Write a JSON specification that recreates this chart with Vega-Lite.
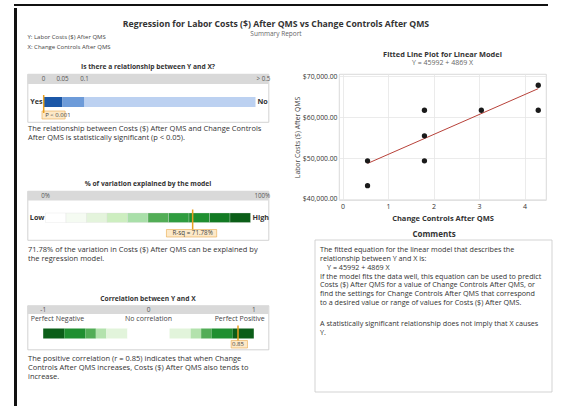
{
  "$schema": "https://vega.github.io/schema/vega-lite/v6.json",
  "padding": {"left": 12, "top": 2, "right": 0, "bottom": 0},
  "background": "white",
  "config": {
    "font": "Open Sans",
    "view": {"stroke": null},
    "text": {"font": "Open Sans", "color": "#333333"},
    "title": {"font": "Open Sans", "color": "#333333", "subtitleFont": "Open Sans"},
    "axis": {"labelFont": "Open Sans", "titleFont": "Open Sans"}
  },
  "datasets": {
    "g1seg": [
      {"lo": 0, "hi": 0.05, "zone": "p<0.05"},
      {"lo": 0.05, "hi": 0.1, "zone": "0.05-0.10"},
      {"lo": 0.1, "hi": 0.5, "zone": "p>0.10"}
    ],
    "g1lab": [
      {"v": 0, "lab": "0"},
      {"v": 0.05, "lab": "0.05"},
      {"v": 0.1, "lab": "0.1"},
      {"v": 0.5, "lab": "> 0.5"}
    ],
    "g1res": [{"p": 0.0005, "tag": "P < 0.001"}],
    "g2seg": [
      {"lo": 0.0, "hi": 0.1, "shade": 1},
      {"lo": 0.1, "hi": 0.2, "shade": 2},
      {"lo": 0.2, "hi": 0.3, "shade": 3},
      {"lo": 0.3, "hi": 0.4, "shade": 4},
      {"lo": 0.4, "hi": 0.5, "shade": 5},
      {"lo": 0.5, "hi": 0.6, "shade": 6},
      {"lo": 0.6, "hi": 0.7, "shade": 7},
      {"lo": 0.7, "hi": 0.8, "shade": 8},
      {"lo": 0.8, "hi": 0.9, "shade": 9},
      {"lo": 0.9, "hi": 1.0, "shade": 10}
    ],
    "g2lab": [{"v": 0, "lab": "0%"}, {"v": 1, "lab": "100%"}],
    "g2res": [{"rsq": 0.7178, "tag": "R-sq = 71.78%"}],
    "g3seg": [
      {"lo": -1.0, "hi": -0.8, "level": 5},
      {"lo": -0.8, "hi": -0.6, "level": 4},
      {"lo": -0.6, "hi": -0.5, "level": 3},
      {"lo": -0.5, "hi": -0.4, "level": 2},
      {"lo": -0.4, "hi": -0.2, "level": 1},
      {"lo": -0.2, "hi": 0.0, "level": 0},
      {"lo": 0.0, "hi": 0.2, "level": 0},
      {"lo": 0.2, "hi": 0.4, "level": 1},
      {"lo": 0.4, "hi": 0.5, "level": 2},
      {"lo": 0.5, "hi": 0.6, "level": 3},
      {"lo": 0.6, "hi": 0.8, "level": 4},
      {"lo": 0.8, "hi": 1.0, "level": 5}
    ],
    "g3lab": [{"v": -1, "lab": "-1"}, {"v": 0, "lab": "0"}, {"v": 1, "lab": "1"}],
    "g3res": [{"r": 0.85, "tag": "0.85"}],
    "obs": [
      {"cc": 0.55, "cost": 49300},
      {"cc": 0.55, "cost": 43250},
      {"cc": 1.8, "cost": 61650},
      {"cc": 1.8, "cost": 55400},
      {"cc": 1.8, "cost": 49300},
      {"cc": 3.05, "cost": 61650},
      {"cc": 4.3, "cost": 67750},
      {"cc": 4.3, "cost": 61650}
    ],
    "fit": [
      {"cc": 0.55, "fitted": 48670},
      {"cc": 4.3, "fitted": 66929}
    ],
    "comments": [
      {"part": "intro", "note": "The fitted equation for the linear model that describes the\nrelationship between Y and X is:"},
      {"part": "equation", "note": "Y = 45992 + 4869 X"},
      {"part": "use", "note": "If the model fits the data well, this equation can be used to predict\nCosts ($) After QMS for a value of Change Controls After QMS, or\nfind the settings for Change Controls After QMS that correspond\nto a desired value or range of values for Costs ($) After QMS."},
      {"part": "caution", "note": "A statistically significant relationship does not imply that X causes\nY."}
    ]
  },
  "spacing": 0,
  "resolve": {"scale": {"color": "independent"}},
  "vconcat": [
    {
      "width": 534, "height": 2,
      "view": {"fill": "#111111", "stroke": null},
      "data": {"values": [{"edge": "top"}]},
      "mark": {"type": "point", "opacity": 0},
      "encoding": {}
    },
    {
      "spacing": 7.5,
      "resolve": {"scale": {"color": "independent"}},
      "hconcat": [
        {
          "width": 3, "height": 402,
          "view": {"fill": "#111111", "stroke": null},
          "data": {"values": [{"edge": "left"}]},
          "mark": {"type": "point", "opacity": 0},
          "encoding": {}
        },
        {
          "spacing": 0,
          "resolve": {"scale": {"color": "independent"}},
          "vconcat": [
            {
              "width": 523, "height": 35.5,
              "title": {
                "text": "Regression for Labor Costs ($) After QMS vs Change Controls After QMS",
                "subtitle": "Summary Report",
                "fontSize": 8.7, "fontWeight": "bold", "color": "#333333",
                "subtitleFontSize": 6.5, "subtitleColor": "#666666", "subtitlePadding": 2,
                "anchor": "middle", "offset": -29, "dx": -13
              },
              "data": {"values": [{"t": "Y: Labor Costs ($) After QMS\nX: Change Controls After QMS"}]},
              "mark": {"type": "text", "align": "left", "baseline": "top", "lineBreak": "\n", "fontSize": 6, "lineHeight": 9.5, "color": "#444444"},
              "encoding": {
                "x": {"datum": 0, "type": "quantitative", "scale": {"domain": [0, 1]}, "axis": null},
                "y": {"datum": 26, "type": "quantitative", "scale": {"domain": [0, 35.5], "reverse": true, "nice": false, "zero": false}, "axis": null},
                "text": {"field": "t"}
              }
            },
            {
              "spacing": 21.5,
              "resolve": {"scale": {"color": "independent"}},
              "hconcat": [
                {
                  "spacing": 38,
                  "resolve": {"scale": {"color": "independent"}},
                  "vconcat": [
                    {
                      "width": 241, "height": 48,
                      "view": {"stroke": "#c8c8c8", "strokeWidth": 0.8},
                      "title": {"text": "Is there a relationship between Y and X?", "fontSize": 6.7, "fontWeight": "bold", "offset": 3},
                      "layer": [
                        {
                          "data": {"name": "g1seg"},
                          "mark": {"type": "bar"},
                          "encoding": {
                            "x": {
                              "field": "lo", "type": "quantitative",
                              "scale": {"domain": [0, 0.05, 0.1, 0.5], "range": [16, 35, 57, 228], "nice": false, "zero": false},
                              "axis": {
                                "orient": "bottom", "domain": false, "ticks": false, "labels": false, "grid": false,
                                "title": ["The relationship between Costs ($) After QMS and Change Controls", "After QMS is statistically significant (p < 0.05)."],
                                "titleX": 0, "titleAlign": "left", "titleAnchor": "start", "titleBaseline": "top",
                                "titleFontSize": 7.5, "titleFontWeight": "normal", "titleColor": "#333333", "titlePadding": 2.5, "titleLineHeight": 9.3
                              }
                            },
                            "x2": {"field": "hi"},
                            "y": {"datum": 23, "type": "quantitative", "scale": {"domain": [0, 48], "reverse": true, "nice": false, "zero": false}, "axis": null},
                            "y2": {"datum": 33},
                            "color": {"field": "zone", "type": "nominal", "scale": {"domain": ["p<0.05", "0.05-0.10", "p>0.10"], "range": ["#1b57a7", "#6d9bd9", "#bcd1f1"]}, "legend": null}
                          }
                        },
                        {
                          "data": {"values": [{"band": "scale"}]},
                          "mark": {"type": "rect", "color": "#d9d9d9", "clip": true},
                          "encoding": {
                            "x": {"datum": -1},
                            "x2": {"datum": 2},
                            "y": {"datum": 0, "axis": null},
                            "y2": {"datum": 10}
                          }
                        },
                        {
                          "data": {"name": "g1lab"},
                          "transform": [{"filter": "datum.v < 0.5"}],
                          "mark": {"type": "text", "fontSize": 6.2, "color": "#555555", "baseline": "middle"},
                          "encoding": {
                            "x": {"field": "v", "type": "quantitative"},
                            "y": {"datum": 5, "axis": null},
                            "text": {"field": "lab"}
                          }
                        },
                        {
                          "data": {"name": "g1lab"},
                          "transform": [{"filter": "datum.v == 0.5"}],
                          "mark": {"type": "text", "fontSize": 6.2, "color": "#555555", "baseline": "middle", "align": "left", "dx": 1},
                          "encoding": {
                            "x": {"field": "v", "type": "quantitative"},
                            "y": {"datum": 5, "axis": null},
                            "text": {"field": "lab"}
                          }
                        },
                        {
                          "data": {"values": [{"end": "Yes"}]},
                          "mark": {"type": "text", "fontSize": 7.2, "fontWeight": "bold", "align": "right", "baseline": "middle", "dx": -1},
                          "encoding": {
                            "x": {"datum": 0},
                            "y": {"datum": 28, "axis": null},
                            "text": {"field": "end"}
                          }
                        },
                        {
                          "data": {"values": [{"end": "No"}]},
                          "mark": {"type": "text", "fontSize": 7.2, "fontWeight": "bold", "align": "left", "baseline": "middle", "dx": 2},
                          "encoding": {
                            "x": {"datum": 0.5},
                            "y": {"datum": 28, "axis": null},
                            "text": {"field": "end"}
                          }
                        },
                        {
                          "data": {"name": "g1res"},
                          "mark": {"type": "rect", "fill": "#fde9c8", "stroke": "#e9a94a", "strokeWidth": 0.6},
                          "encoding": {
                            "x": {"datum": -0.004},
                            "x2": {"datum": 0.056},
                            "y": {"datum": 37, "axis": null},
                            "y2": {"datum": 45}
                          }
                        },
                        {
                          "data": {"name": "g1res"},
                          "mark": {"type": "rule", "color": "#e8a020", "strokeWidth": 1.5},
                          "encoding": {
                            "x": {"field": "p", "type": "quantitative"},
                            "y": {"datum": 21, "axis": null},
                            "y2": {"datum": 39}
                          }
                        },
                        {
                          "data": {"name": "g1res"},
                          "mark": {"type": "text", "fontSize": 6, "align": "left", "baseline": "middle", "dx": 1.5, "color": "#444444"},
                          "encoding": {
                            "x": {"field": "p", "type": "quantitative"},
                            "y": {"datum": 41.3, "axis": null},
                            "text": {"field": "tag"}
                          }
                        }
                      ]
                    },
                    {
                      "spacing": 31.5,
                      "resolve": {"scale": {"color": "independent"}},
                      "vconcat": [
                        {
                          "width": 241, "height": 49,
                          "view": {"stroke": "#c8c8c8", "strokeWidth": 0.8},
                          "title": {"text": "% of variation explained by the model", "fontSize": 6.7, "fontWeight": "bold", "offset": 3},
                          "layer": [
                            {
                              "data": {"name": "g2seg"},
                              "mark": {"type": "bar", "stroke": "#dddddd", "strokeWidth": 0.3},
                              "encoding": {
                                "x": {
                                  "field": "lo", "type": "quantitative",
                                  "scale": {"domain": [0, 1], "range": [18, 223], "nice": false, "zero": false},
                                  "axis": {
                                    "orient": "bottom", "domain": false, "ticks": false, "labels": false, "grid": false,
                                    "title": ["71.78% of the variation in Costs ($) After QMS can be explained by", "the regression model."],
                                    "titleX": 0, "titleAlign": "left", "titleAnchor": "start", "titleBaseline": "top",
                                    "titleFontSize": 7.5, "titleFontWeight": "normal", "titleColor": "#333333", "titlePadding": 5.5, "titleLineHeight": 9.3
                                  }
                                },
                                "x2": {"field": "hi"},
                                "y": {"datum": 22, "type": "quantitative", "scale": {"domain": [0, 49], "reverse": true, "nice": false, "zero": false}, "axis": null},
                                "y2": {"datum": 31.5},
                                "color": {"field": "shade", "type": "ordinal", "scale": {"domain": [1, 2, 3, 4, 5, 6, 7, 8, 9, 10], "range": ["#ffffff", "#f5fbf2", "#e4f4dc", "#cdeec0", "#a9dfa9", "#52ad56", "#2f9c3f", "#1f8f30", "#127a23", "#0b5e18"]}, "legend": null}
                              }
                            },
                            {
                              "data": {"values": [{"band": "scale"}]},
                              "mark": {"type": "rect", "color": "#d9d9d9", "clip": true},
                              "encoding": {
                                "x": {"datum": -1},
                                "x2": {"datum": 2},
                                "y": {"datum": 0, "axis": null},
                                "y2": {"datum": 9.5}
                              }
                            },
                            {
                              "data": {"name": "g2lab"},
                              "transform": [{"filter": "datum.v < 1"}],
                              "mark": {"type": "text", "fontSize": 6.2, "color": "#555555", "baseline": "middle"},
                              "encoding": {
                                "x": {"field": "v", "type": "quantitative"},
                                "y": {"datum": 5, "axis": null},
                                "text": {"field": "lab"}
                              }
                            },
                            {
                              "data": {"name": "g2lab"},
                              "transform": [{"filter": "datum.v == 1"}],
                              "mark": {"type": "text", "fontSize": 6.2, "color": "#555555", "baseline": "middle", "align": "left", "dx": 4},
                              "encoding": {
                                "x": {"field": "v", "type": "quantitative"},
                                "y": {"datum": 5, "axis": null},
                                "text": {"field": "lab"}
                              }
                            },
                            {
                              "data": {"values": [{"end": "Low"}]},
                              "mark": {"type": "text", "fontSize": 7.2, "fontWeight": "bold", "align": "right", "baseline": "middle", "dx": -1},
                              "encoding": {
                                "x": {"datum": 0},
                                "y": {"datum": 26.5, "axis": null},
                                "text": {"field": "end"}
                              }
                            },
                            {
                              "data": {"values": [{"end": "High"}]},
                              "mark": {"type": "text", "fontSize": 7.2, "fontWeight": "bold", "align": "left", "baseline": "middle", "dx": 2},
                              "encoding": {
                                "x": {"datum": 1},
                                "y": {"datum": 26.5, "axis": null},
                                "text": {"field": "end"}
                              }
                            },
                            {
                              "data": {"name": "g2res"},
                              "mark": {"type": "rect", "fill": "#fde9c8", "stroke": "#e9a94a", "strokeWidth": 0.6},
                              "encoding": {
                                "x": {"datum": 0.59},
                                "x2": {"datum": 0.835},
                                "y": {"datum": 38.5, "axis": null},
                                "y2": {"datum": 46}
                              }
                            },
                            {
                              "data": {"name": "g2res"},
                              "mark": {"type": "rule", "color": "#e8a020", "strokeWidth": 1.5},
                              "encoding": {
                                "x": {"field": "rsq", "type": "quantitative"},
                                "y": {"datum": 18.5, "axis": null},
                                "y2": {"datum": 38.5}
                              }
                            },
                            {
                              "data": {"name": "g2res"},
                              "mark": {"type": "text", "fontSize": 6.2, "align": "center", "baseline": "middle", "color": "#444444"},
                              "encoding": {
                                "x": {"field": "rsq", "type": "quantitative"},
                                "y": {"datum": 42.3, "axis": null},
                                "text": {"field": "tag"}
                              }
                            }
                          ]
                        },
                        {
                          "width": 241, "height": 44,
                          "view": {"stroke": "#c8c8c8", "strokeWidth": 0.8},
                          "title": {"text": "Correlation between Y and X", "fontSize": 6.7, "fontWeight": "bold", "offset": 3},
                          "layer": [
                            {
                              "data": {"name": "g3seg"},
                              "mark": {"type": "bar"},
                              "encoding": {
                                "x": {
                                  "field": "lo", "type": "quantitative",
                                  "scale": {"domain": [-1, 1], "range": [15.7, 226.3], "nice": false, "zero": false},
                                  "axis": {
                                    "orient": "bottom", "domain": false, "ticks": false, "labels": false, "grid": false,
                                    "title": ["The positive correlation (r = 0.85) indicates that when Change", "Controls After QMS increases, Costs ($) After QMS also tends to", "increase."],
                                    "titleX": 0, "titleAlign": "left", "titleAnchor": "start", "titleBaseline": "top",
                                    "titleFontSize": 7.5, "titleFontWeight": "normal", "titleColor": "#333333", "titlePadding": 5, "titleLineHeight": 9
                                  }
                                },
                                "x2": {"field": "hi"},
                                "y": {"datum": 23, "type": "quantitative", "scale": {"domain": [0, 44], "reverse": true, "nice": false, "zero": false}, "axis": null},
                                "y2": {"datum": 33},
                                "color": {"field": "level", "type": "ordinal", "scale": {"domain": [0, 1, 2, 3, 4, 5], "range": ["#ffffff", "#e2f4db", "#b3e2ad", "#52ad56", "#1f8f30", "#0b5e18"]}, "legend": null}
                              }
                            },
                            {
                              "data": {"values": [{"band": "scale"}]},
                              "mark": {"type": "rect", "color": "#d9d9d9", "clip": true},
                              "encoding": {
                                "x": {"datum": -2},
                                "x2": {"datum": 2},
                                "y": {"datum": 0, "axis": null},
                                "y2": {"datum": 8.5}
                              }
                            },
                            {
                              "data": {"name": "g3lab"},
                              "mark": {"type": "text", "fontSize": 6.5, "color": "#555555", "baseline": "middle"},
                              "encoding": {
                                "x": {"field": "v", "type": "quantitative"},
                                "y": {"datum": 4.5, "axis": null},
                                "text": {"field": "lab"}
                              }
                            },
                            {
                              "data": {"values": [{"end": "Perfect Negative"}]},
                              "mark": {"type": "text", "fontSize": 7, "align": "left", "baseline": "middle", "dx": -12.5, "color": "#444444"},
                              "encoding": {
                                "x": {"datum": -1},
                                "y": {"datum": 13.5, "axis": null},
                                "text": {"field": "end"}
                              }
                            },
                            {
                              "data": {"values": [{"end": "No correlation"}]},
                              "mark": {"type": "text", "fontSize": 7, "align": "center", "baseline": "middle", "color": "#444444"},
                              "encoding": {
                                "x": {"datum": 0},
                                "y": {"datum": 13.5, "axis": null},
                                "text": {"field": "end"}
                              }
                            },
                            {
                              "data": {"values": [{"end": "Perfect Positive"}]},
                              "mark": {"type": "text", "fontSize": 7, "align": "right", "baseline": "middle", "dx": 11, "color": "#444444"},
                              "encoding": {
                                "x": {"datum": 1},
                                "y": {"datum": 13.5, "axis": null},
                                "text": {"field": "end"}
                              }
                            },
                            {
                              "data": {"name": "g3res"},
                              "mark": {"type": "rect", "fill": "#fde9c8", "stroke": "#e9a94a", "strokeWidth": 0.6},
                              "encoding": {
                                "x": {"datum": 0.785},
                                "x2": {"datum": 0.94},
                                "y": {"datum": 35, "axis": null},
                                "y2": {"datum": 42.5}
                              }
                            },
                            {
                              "data": {"name": "g3res"},
                              "mark": {"type": "rule", "color": "#e8a020", "strokeWidth": 1.5},
                              "encoding": {
                                "x": {"field": "r", "type": "quantitative"},
                                "y": {"datum": 20, "axis": null},
                                "y2": {"datum": 35}
                              }
                            },
                            {
                              "data": {"name": "g3res"},
                              "mark": {"type": "text", "fontSize": 6, "align": "center", "baseline": "middle", "color": "#444444"},
                              "encoding": {
                                "x": {"field": "r", "type": "quantitative"},
                                "y": {"datum": 38.8, "axis": null},
                                "text": {"field": "tag"}
                              }
                            }
                          ]
                        }
                      ]
                    }
                  ]
                },
                {
                  "spacing": 7,
                  "vconcat": [
                    {
                      "width": 207, "height": 126,
                      "view": {"stroke": "#cfcfcf", "strokeWidth": 0.8},
                      "title": {
                        "text": "Fitted Line Plot for Linear Model",
                        "subtitle": "Y = 45992 + 4869 X",
                        "fontSize": 7.4, "fontWeight": "bold",
                        "subtitleFontSize": 7, "subtitleColor": "#666666", "subtitlePadding": 0.5,
                        "offset": 7
                      },
                      "layer": [
                        {
                          "data": {"name": "fit"},
                          "mark": {"type": "line", "color": "#b8423a", "strokeWidth": 1},
                          "encoding": {
                            "x": {
                              "field": "cc", "type": "quantitative",
                              "scale": {"domain": [-0.077, 4.47], "nice": false, "zero": false},
                              "axis": {
                                "values": [0, 1, 2, 3, 4], "title": "Change Controls After QMS",
                                "titleFontWeight": "bold", "titleFontSize": 7.5, "titleColor": "#333333", "titlePadding": 5.5,
                                "labelFontSize": 7, "labelColor": "#333333", "labelPadding": 2,
                                "domain": false, "ticks": false, "grid": true, "gridColor": "#e6e6e6", "gridWidth": 0.8
                              }
                            },
                            "y": {
                              "field": "fitted", "type": "quantitative",
                              "scale": {"domain": [39750, 70500], "nice": false, "zero": false},
                              "axis": {
                                "values": [40000, 50000, 60000, 70000], "format": "$,.2f", "title": "Labor Costs ($) After QMS",
                                "titleFontWeight": "normal", "titleFontSize": 6.8, "titleColor": "#444444", "titlePadding": 2,
                                "labelFontSize": 6.8, "labelColor": "#333333", "labelPadding": 2,
                                "domain": false, "ticks": false, "grid": true, "gridColor": "#e6e6e6", "gridWidth": 0.8
                              }
                            }
                          }
                        },
                        {
                          "data": {"name": "obs"},
                          "mark": {"type": "circle", "size": 28, "color": "#1a1a1a", "opacity": 1},
                          "encoding": {
                            "x": {"field": "cc", "type": "quantitative"},
                            "y": {"field": "cost", "type": "quantitative"}
                          }
                        }
                      ]
                    },
                    {
                      "width": 210, "height": 152,
                      "title": {"text": "Comments", "fontSize": 8, "fontWeight": "bold", "offset": 1, "dx": -10},
                      "data": {"name": "comments"},
                      "layer": [
                        {
                          "transform": [{"filter": "datum.part == 'intro'"}],
                          "mark": {"type": "rect", "fill": "#ffffff", "stroke": "#c8c8c8", "strokeWidth": 0.8},
                          "encoding": {
                            "x": {"datum": 0, "type": "quantitative", "scale": {"domain": [0, 1], "range": [-24, 213]}, "axis": null},
                            "x2": {"datum": 1},
                            "y": {"datum": 0, "type": "quantitative", "scale": {"domain": [0, 152], "reverse": true, "nice": false, "zero": false}, "axis": null},
                            "y2": {"datum": 152}
                          }
                        },
                        {
                          "transform": [{"filter": "datum.part == 'intro'"}],
                          "mark": {"type": "text", "align": "left", "baseline": "top", "lineBreak": "\n", "fontSize": 7.2, "lineHeight": 8.7, "dx": 5, "color": "#333333"},
                          "encoding": {
                            "x": {"datum": 0, "axis": null},
                            "y": {"datum": 6, "axis": null},
                            "text": {"field": "note"}
                          }
                        },
                        {
                          "transform": [{"filter": "datum.part == 'equation'"}],
                          "mark": {"type": "text", "align": "left", "baseline": "top", "fontSize": 7.2, "dx": 12, "color": "#333333"},
                          "encoding": {
                            "x": {"datum": 0, "axis": null},
                            "y": {"datum": 23.5, "axis": null},
                            "text": {"field": "note"}
                          }
                        },
                        {
                          "transform": [{"filter": "datum.part == 'use'"}],
                          "mark": {"type": "text", "align": "left", "baseline": "top", "lineBreak": "\n", "fontSize": 7.2, "lineHeight": 8.7, "dx": 5, "color": "#333333"},
                          "encoding": {
                            "x": {"datum": 0, "axis": null},
                            "y": {"datum": 32.8, "axis": null},
                            "text": {"field": "note"}
                          }
                        },
                        {
                          "transform": [{"filter": "datum.part == 'caution'"}],
                          "mark": {"type": "text", "align": "left", "baseline": "top", "lineBreak": "\n", "fontSize": 7.2, "lineHeight": 8.7, "dx": 5, "color": "#333333"},
                          "encoding": {
                            "x": {"datum": 0, "axis": null},
                            "y": {"datum": 80, "axis": null},
                            "text": {"field": "note"}
                          }
                        }
                      ]
                    }
                  ]
                }
              ]
            }
          ]
        }
      ]
    }
  ]
}
